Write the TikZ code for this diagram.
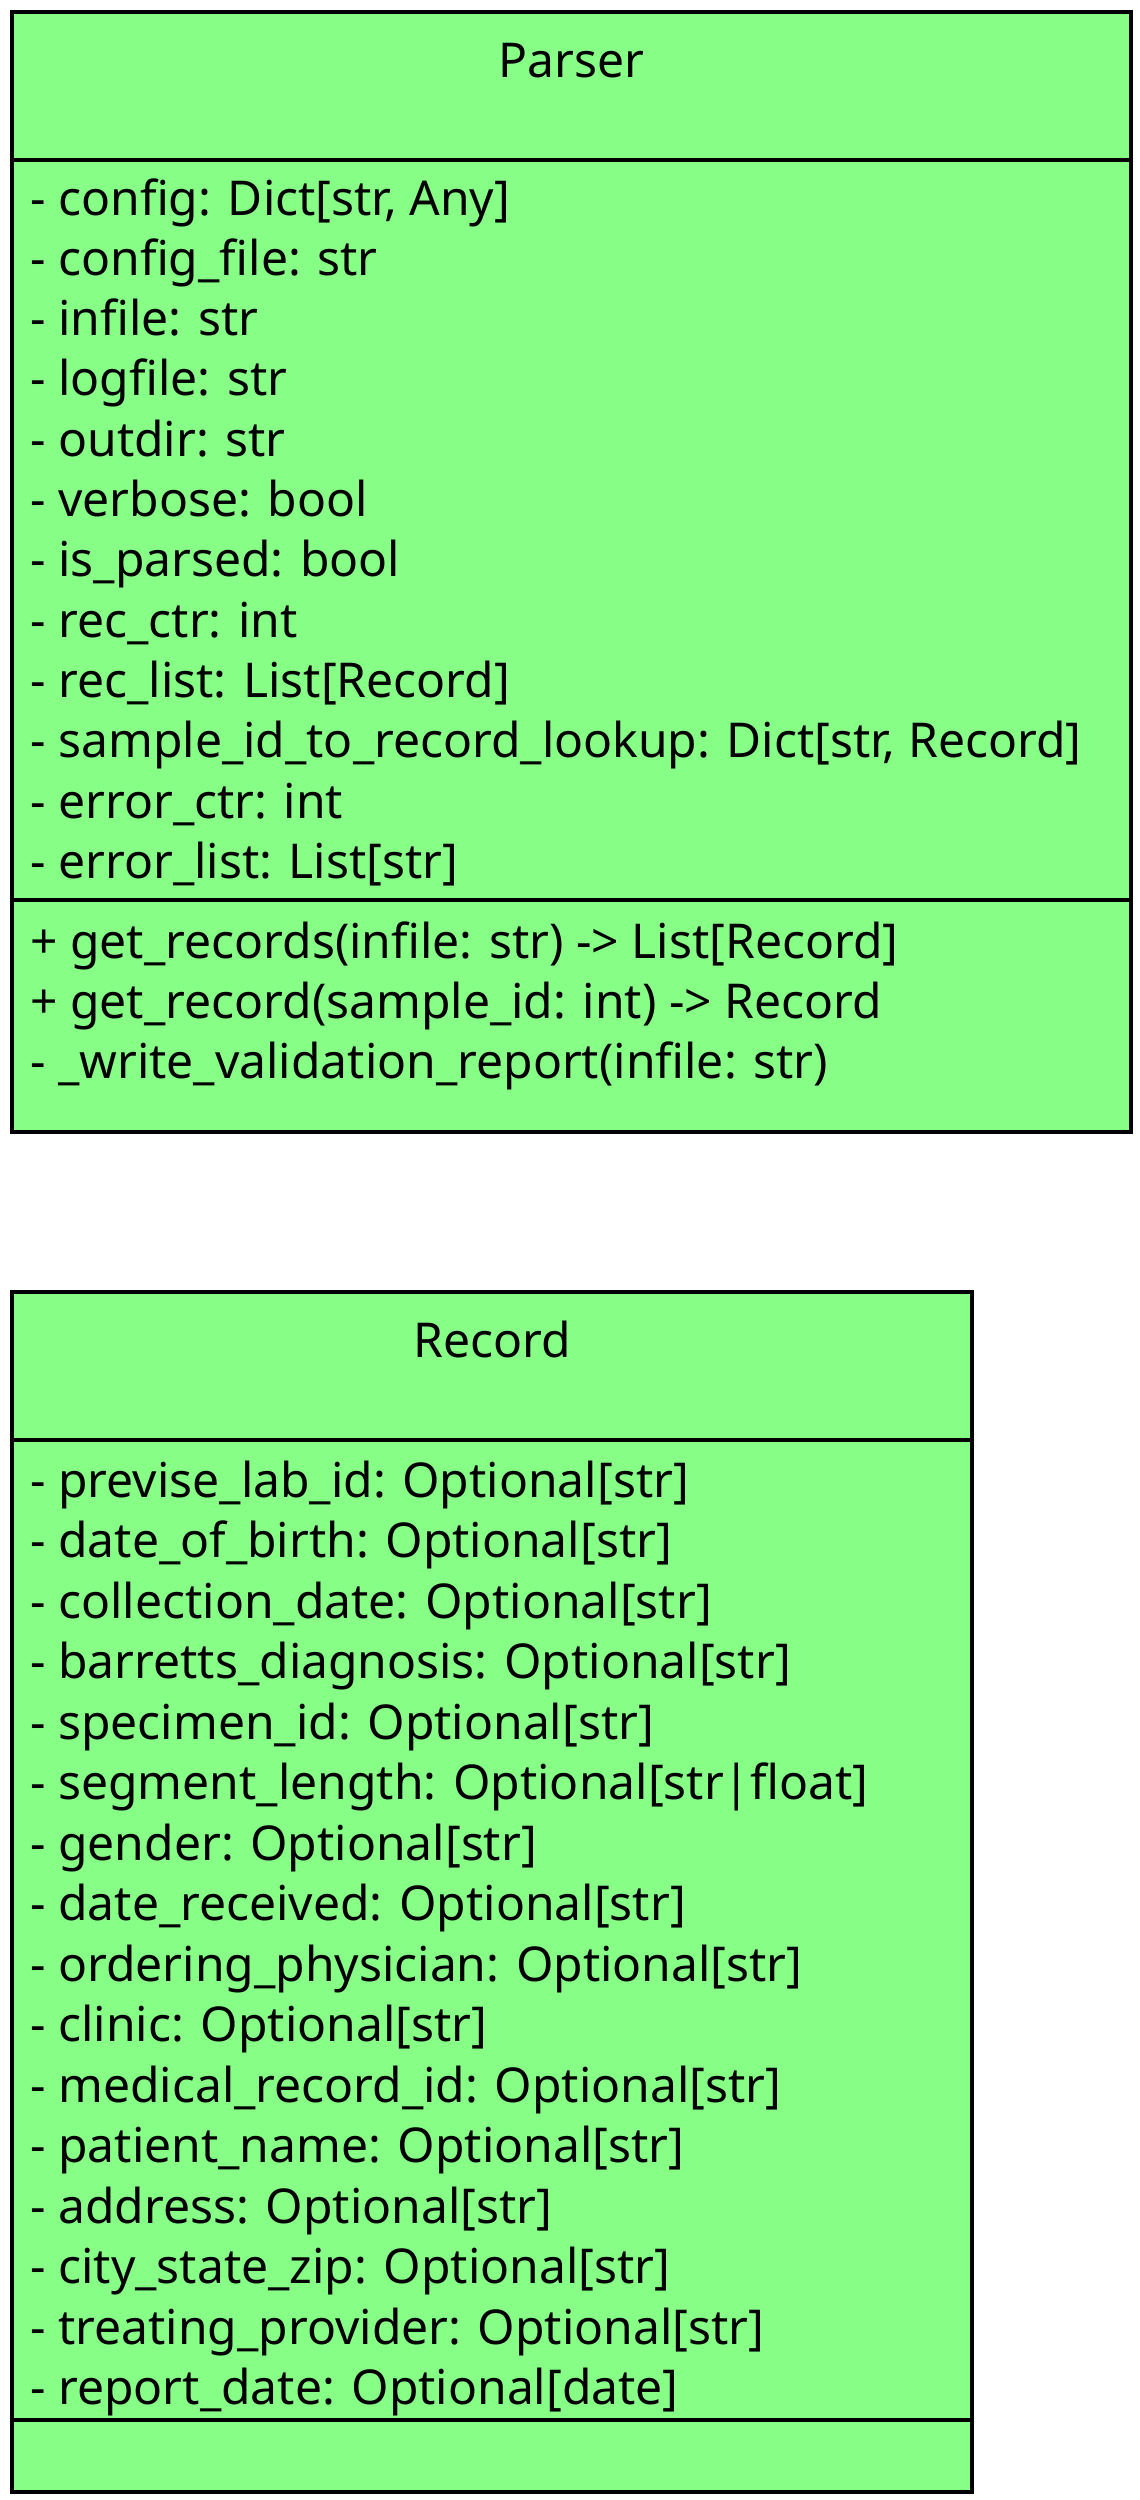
\documentclass[tikz,border=0pt]{standalone}
\usepackage{fontspec}
\setmainfont{Noto Sans}
\definecolor{classfill}{RGB}{135,255,135}
\begin{document}
\begin{tikzpicture}[x=0.5pt,y=-0.5pt,
  classbox/.style={draw=black, fill=classfill, line width=2pt},
  divider/.style={draw=black, line width=2pt},
  member/.style={anchor=base west, inner sep=0pt, font=\fontsize{24}{29}\selectfont},
  classname/.style={anchor=base, inner sep=0pt, font=\fontsize{24}{29}\selectfont}]
\useasboundingbox (0,0) rectangle (1140,2500);

% ---------- class Parser ----------
\draw[classbox] (12,12) rectangle (1131,1132);
\draw[divider] (12,160) -- (1129,160);
\draw[divider] (12,900) -- (1129,900);
\node[classname] (parsertitle) at (571.5,77) {Parser};
\node[member] (p1)  at (30,215.0) {- config: Dict[str, Any]};
\node[member] (p2)  at (30,275.3) {- config\_file: str};
\node[member] (p3)  at (30,335.6) {- infile: str};
\node[member] (p4)  at (30,395.9) {- logfile: str};
\node[member] (p5)  at (30,456.2) {- outdir: str};
\node[member] (p6)  at (30,516.5) {- verbose: bool};
\node[member] (p7)  at (30,576.8) {- is\_parsed: bool};
\node[member] (p8)  at (30,637.1) {- rec\_ctr: int};
\node[member] (p9)  at (30,697.4) {- rec\_list: List[Record]};
\node[member] (p10) at (30,757.7) {- sample\_id\_to\_record\_lookup: Dict[str, Record]};
\node[member] (p11) at (30,818.0) {- error\_ctr: int};
\node[member] (p12) at (30,878.3) {- error\_list: List[str]};
\node[member] (m1)  at (30,958) {+ get\_records(infile: str) -> List[Record]};
\node[member] (m2)  at (30,1018) {+ get\_record(sample\_id: int) -> Record};
\node[member] (m3)  at (30,1078) {- \_write\_validation\_report(infile: str)};

% ---------- class Record ----------
\draw[classbox] (12,1292) rectangle (972,2492);
\draw[divider] (12,1440) -- (970,1440);
\draw[divider] (12,2420) -- (970,2420);
\node[classname] (recordtitle) at (492,1357) {Record};
\node[member] (r1)  at (30,1497.0) {- previse\_lab\_id: Optional[str]};
\node[member] (r2)  at (30,1557.5) {- date\_of\_birth: Optional[str]};
\node[member] (r3)  at (30,1618.0) {- collection\_date: Optional[str]};
\node[member] (r4)  at (30,1678.5) {- barretts\_diagnosis: Optional[str]};
\node[member] (r5)  at (30,1739.0) {- specimen\_id: Optional[str]};
\node[member] (r6)  at (30,1799.5) {- segment\_length: Optional[str|float]};
\node[member] (r7)  at (30,1860.0) {- gender: Optional[str]};
\node[member] (r8)  at (30,1920.5) {- date\_received: Optional[str]};
\node[member] (r9)  at (30,1981.0) {- ordering\_physician: Optional[str]};
\node[member] (r10) at (30,2041.5) {- clinic: Optional[str]};
\node[member] (r11) at (30,2102.0) {- medical\_record\_id: Optional[str]};
\node[member] (r12) at (30,2162.5) {- patient\_name: Optional[str]};
\node[member] (r13) at (30,2223.0) {- address: Optional[str]};
\node[member] (r14) at (30,2283.5) {- city\_state\_zip: Optional[str]};
\node[member] (r15) at (30,2344.0) {- treating\_provider: Optional[str]};
\node[member] (r16) at (30,2404.5) {- report\_date: Optional[date]};
\end{tikzpicture}
\end{document}
